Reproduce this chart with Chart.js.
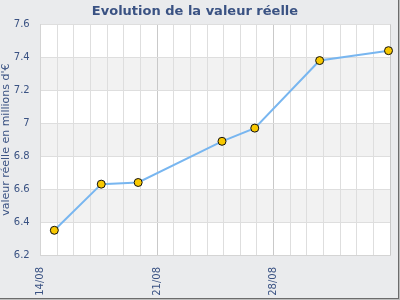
<!DOCTYPE html>
<html>
<head>
<meta charset="utf-8">
<script src="https://cdn.jsdelivr.net/npm/chart.js@4"></script>
<style>
  html, body { margin: 0; padding: 0; background: #eaebed; }
  .frame {
    position: relative;
    width: 400px;
    height: 300px;
    box-sizing: border-box;
    box-shadow: inset -1px -1px 0 #bdbdbd, inset -2px -2px 0 #6c6c6c;
  }
  canvas { display: block; }
</style>
</head>
<body>
<div class="frame"><canvas id="graphValeur" width="400" height="300"></canvas></div>
<script>
// ========== DONNÉES ==========
// jours depuis le 14/08
const jours = [0.82, 3.64, 5.86, 10.9, 12.87, 16.77, 20.91];
const valeurs = [6.35, 6.63, 6.64, 6.89, 6.97, 7.38, 7.44];
const semaines = ["14/08", "21/08", "28/08"];

const TEXT_COLOR = "#3a5283";
const FONT = "'DejaVu Sans', Verdana, sans-serif";

// bandes grises une ligne sur deux
const bandes = {
  id: "bandes",
  beforeDraw(chart) {
    const { ctx, chartArea, scales } = chart;
    ctx.save();
    ctx.fillStyle = "#ffffff";
    ctx.fillRect(chartArea.left, chartArea.top, chartArea.width, chartArea.height);
    ctx.fillStyle = "#f2f2f2";
    const ticks = scales.y.ticks;
    for (let i = 1; i < ticks.length - 1; i += 2) {
      const y1 = scales.y.getPixelForValue(ticks[i].value);
      const y2 = scales.y.getPixelForValue(ticks[i + 1].value);
      ctx.fillRect(chartArea.left, y2, chartArea.width, y1 - y2);
    }
    ctx.restore();
  },
};

new Chart(document.getElementById("graphValeur"), {
  type: "line",
  data: {
    datasets: [
      {
        label: "Valeur réelle",
        data: jours.map((j, i) => ({ x: j, y: valeurs[i] })),
        borderColor: "#78b6f0",
        borderWidth: 2,
        pointRadius: 4,
        pointBackgroundColor: "#f8c800",
        pointBorderColor: "#111111",
        pointBorderWidth: 1,
        tension: 0,
        clip: false,
      },
    ],
  },
  options: {
    responsive: false,
    animation: false,
    layout: { padding: { left: 0, right: 10, top: 0, bottom: 0 } },
    plugins: {
      legend: { display: false },
      tooltip: { enabled: false },
      title: {
        display: true,
        text: "Evolution de la valeur réelle",
        color: TEXT_COLOR,
        font: { family: FONT, size: 13, weight: "bold" },
        padding: { top: 4, bottom: 4.7 },
      },
    },
    scales: {
      x: {
        type: "linear",
        min: 0,
        max: 21,
        afterFit: (s) => {
          s.height = 45;
          s.paddingLeft = 0;
          s.paddingRight = 0;
        },
        grid: {
          drawTicks: false,
          color: (c) => (c.tick && c.tick.value % 7 === 0 ? "#c9c9c9" : "#dedede"),
        },
        border: { color: "#d4d4d4" },
        ticks: {
          stepSize: 1,
          autoSkip: false,
          minRotation: 90,
          maxRotation: 90,
          padding: 12,
          color: TEXT_COLOR,
          font: { family: FONT, size: 10 },
          callback: (v) => (v % 7 === 0 ? semaines[v / 7] || "" : ""),
        },
      },
      y: {
        min: 6.2,
        max: 7.6,
        afterFit: (s) => { s.width = 40.7; },
        grid: { drawTicks: false, color: "#dedede" },
        border: { color: "#d4d4d4" },
        ticks: {
          stepSize: 0.2,
          padding: 11,
          color: TEXT_COLOR,
          font: { family: FONT, size: 10 },
          callback: (v) => String(Number(v.toFixed(1))),
        },
        title: {
          display: true,
          text: "valeur réelle en millions d'€",
          color: TEXT_COLOR,
          font: { family: FONT, size: 11 },
          padding: 0,
        },
      },
    },
  },
  plugins: [bandes],
});
</script>
</body>
</html>
